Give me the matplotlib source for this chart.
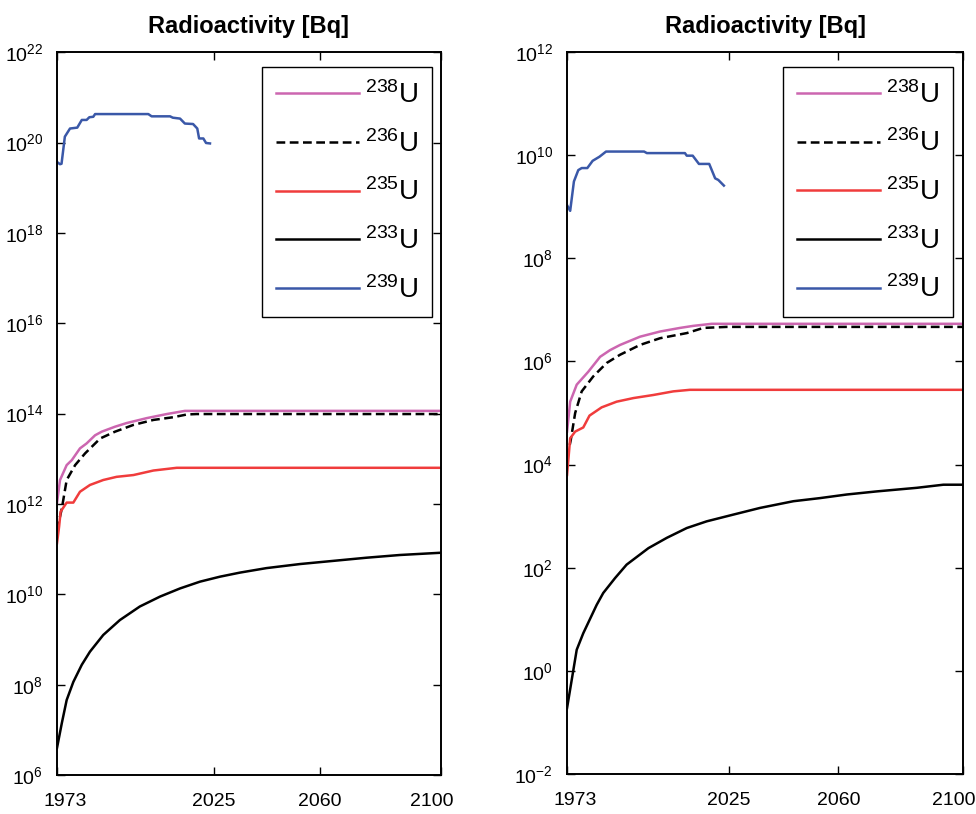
import matplotlib
matplotlib.use("Agg")
import matplotlib.pyplot as plt
from matplotlib.ticker import NullLocator
from matplotlib.transforms import ScaledTranslation
import numpy as np

plt.rcParams['font.family'] = ['Liberation Sans', 'DejaVu Sans']
plt.rcParams['mathtext.fontset'] = 'custom'
plt.rcParams['mathtext.rm'] = 'Liberation Sans'
plt.rcParams['mathtext.it'] = 'Liberation Sans'
plt.rcParams['mathtext.default'] = 'regular'

# ---- data (log10 of activity in Bq) ----
xticks = [1973, 2025, 2060, 2100]
labels = ['$^{238}$U', '$^{236}$U', '$^{235}$U', '$^{233}$U', '$^{239}$U']
colors = ['#CC66B0', 'black', '#F03C3C', 'black', '#3A58A8']
styles = ['-', '--', '-', '-', '-']

# left panel
l_u238_yr = [1973, 1974, 1976.2, 1977.9, 1980.6, 1982.8, 1985.6, 1987.8, 1992.2, 1996, 2002.7, 2009.3, 2015.3, 2100]
l_u238_lg = [12.02, 12.53, 12.86, 12.97, 13.23, 13.34, 13.52, 13.60, 13.71, 13.79, 13.90, 13.99, 14.06, 14.06]
l_u236_yr = [1973, 1974.6, 1976.2, 1979, 1982.3, 1987.3, 1992.2, 1998.3, 2004.9, 2011.5, 2015.9, 2019.2, 2100]
l_u236_lg = [11.42, 11.90, 12.53, 12.86, 13.12, 13.45, 13.60, 13.75, 13.86, 13.92, 13.98, 13.99, 13.99]
l_u235_yr = [1973, 1973.7, 1974.2, 1976.2, 1978.4, 1980.6, 1983.9, 1988.3, 1992.7, 1998.3, 2004.9, 2012.6, 2100]
l_u235_lg = [11.13, 11.50, 11.83, 12.03, 12.03, 12.27, 12.42, 12.53, 12.60, 12.64, 12.74, 12.80, 12.80]
l_u233_yr = [1973, 1974.6, 1976.2, 1978.4, 1981.2, 1983.9, 1988.3, 1993.8, 2000.4, 2007.1, 2013.7, 2020.3,
             2026.9, 2033.5, 2042.3, 2053.4, 2064.4, 2075.4, 2086.4, 2100]
l_u233_lg = [6.60, 7.15, 7.66, 8.06, 8.44, 8.73, 9.10, 9.43, 9.73, 9.95, 10.13, 10.28,
             10.39, 10.48, 10.58, 10.67, 10.74, 10.81, 10.87, 10.92]
l_u239_yr = [1973, 1974, 1974.5, 1975.6, 1977.3, 1979.7, 1981.2, 1982.8, 1983.7, 1985, 1985.6, 2003.2, 2004.3,
             2010.4, 2011.3, 2013.7, 2015.3, 2018, 2019.4, 2020, 2021.4, 2022.3, 2023.6]
l_u239_lg = [19.57, 19.52, 19.53, 20.13, 20.31, 20.33, 20.50, 20.50, 20.56, 20.57, 20.63, 20.63, 20.58,
             20.58, 20.55, 20.53, 20.42, 20.41, 20.31, 20.09, 20.09, 19.99, 19.98]

# right panel
r_u238_yr = [1973, 1974, 1976.1, 1979.8, 1983.6, 1986.8, 1990, 1996.4, 2002.8, 2009.2, 2013.5, 2019.4, 2100]
r_u238_lg = [4.64, 5.22, 5.55, 5.80, 6.09, 6.22, 6.32, 6.48, 6.58, 6.65, 6.69, 6.73, 6.73]
r_u236_yr = [1973, 1974.2, 1975.6, 1977.7, 1981.4, 1985.7, 1990, 1996.4, 2002.8, 2011.4, 2016.7, 2024.2, 2100]
r_u236_lg = [4.13, 4.48, 5.00, 5.42, 5.71, 5.97, 6.13, 6.32, 6.45, 6.55, 6.65, 6.67, 6.67]
r_u235_yr = [1973, 1974, 1975.6, 1978.2, 1980.2, 1984.1, 1988.9, 1994.3, 2000.7, 2007.1, 2012.4, 2100]
r_u235_lg = [3.80, 4.51, 4.64, 4.72, 4.95, 5.11, 5.22, 5.29, 5.35, 5.42, 5.45, 5.45]
r_u233_yr = [1973, 1976.1, 1978.2, 1982.5, 1984.6, 1988.4, 1992.1, 1999.1, 2005, 2011.4, 2017.8, 2026.3,
             2034.9, 2045.6, 2054.1, 2062.7, 2072.3, 2085.2, 2093.7, 2100]
r_u233_lg = [-0.72, 0.41, 0.73, 1.28, 1.51, 1.80, 2.06, 2.38, 2.58, 2.77, 2.90, 3.03,
             3.16, 3.29, 3.35, 3.42, 3.48, 3.55, 3.61, 3.61]
r_u239_yr = [1973, 1974, 1975.2, 1976.6, 1977.7, 1979.5, 1981.2, 1983.4, 1985.5, 1997.7, 1998.6, 2010.8,
             2011.4, 2013.3, 2015.3, 2018.6, 2020.5, 2021.5, 2023.3]
r_u239_lg = [9.03, 8.92, 9.49, 9.71, 9.75, 9.75, 9.89, 9.97, 10.07, 10.07, 10.04, 10.04,
             9.99, 9.99, 9.83, 9.83, 9.55, 9.52, 9.41]

left_series = [(l_u238_yr, l_u238_lg), (l_u236_yr, l_u236_lg), (l_u235_yr, l_u235_lg),
               (l_u233_yr, l_u233_lg), (l_u239_yr, l_u239_lg)]
right_series = [(r_u238_yr, r_u238_lg), (r_u236_yr, r_u236_lg), (r_u235_yr, r_u235_lg),
                (r_u233_yr, r_u233_lg), (r_u239_yr, r_u239_lg)]


def draw_panel(fig, ax, series, ylo, yhi, legend_anchor):
    for (yr, lg), lab, col, ls in zip(series, labels, colors, styles):
        line, = ax.plot(yr, 10.0 ** np.array(lg), color=col, linestyle=ls, linewidth=1.8, label=lab)
        if ls == '--':
            line.set_dashes((3.5, 1.8))
    ax.set_yscale('log')
    ax.set_xlim(1973, 2100)
    ax.set_ylim(10.0 ** ylo, 10.0 ** yhi)
    ax.set_xticks(xticks)
    ax.set_yticks(10.0 ** np.arange(ylo, yhi + 1, 2))
    ax.yaxis.set_minor_locator(NullLocator())
    ax.tick_params(direction='in', top=True, right=True, length=6, width=1,
                   labelsize=14)
    ax.tick_params(axis='y', pad=10)
    ax.tick_params(axis='x', pad=13)
    # end labels sit slightly inward, as in the original
    xl = ax.get_xticklabels()
    xl[0].set_transform(xl[0].get_transform() + ScaledTranslation(8 / 100, 0, fig.dpi_scale_trans))
    xl[-1].set_transform(xl[-1].get_transform() + ScaledTranslation(-9 / 100, 0, fig.dpi_scale_trans))
    for sp in ax.spines.values():
        sp.set_linewidth(1.4)
    ax.set_title('Radioactivity [Bq]', fontsize=17, fontweight='bold', pad=14)
    leg = ax.legend(loc='upper right', bbox_to_anchor=legend_anchor, fontsize=20,
                    frameon=True, fancybox=False, edgecolor='black', framealpha=1,
                    handlelength=3.0, handletextpad=0.2, labelspacing=0.75,
                    borderpad=0.5, borderaxespad=0)
    leg.get_frame().set_linewidth(1.0)


fig = plt.figure(figsize=(9.76, 8.14), dpi=100)
axL = fig.add_axes([0.0584, 0.0479, 0.3934, 0.888])
axR = fig.add_axes([0.581, 0.0491, 0.4057, 0.887])

draw_panel(fig, axL, left_series, 6, 22, (0.977, 0.979))
draw_panel(fig, axR, right_series, -2, 12, (0.975, 0.979))

fig.savefig('out.png', dpi=100)
